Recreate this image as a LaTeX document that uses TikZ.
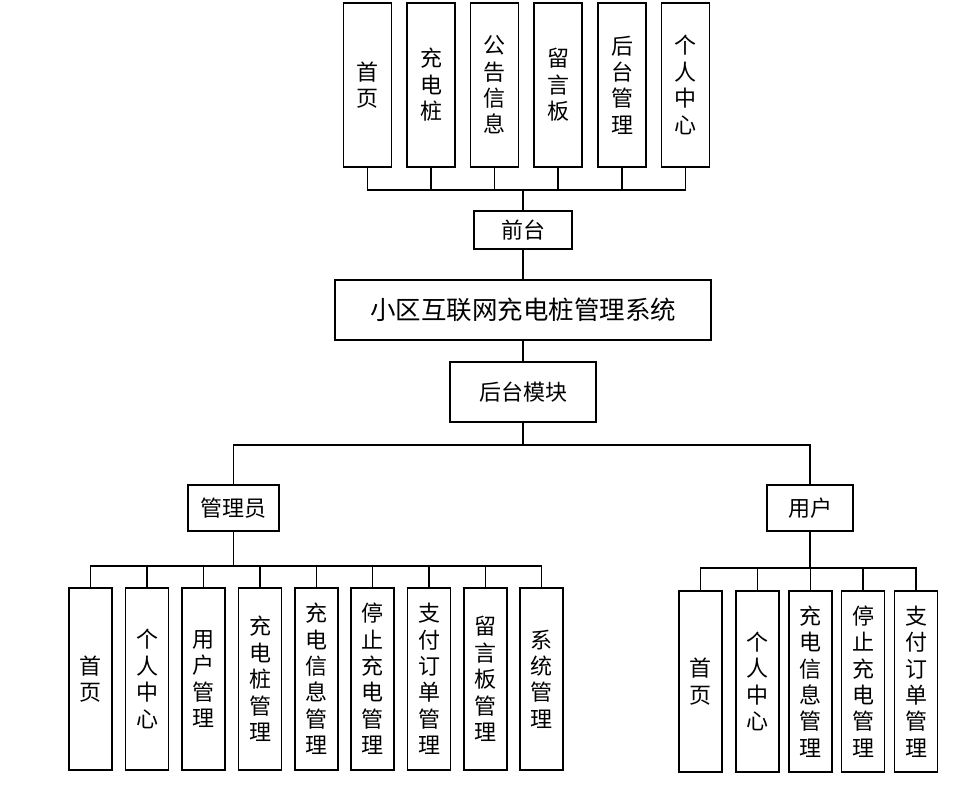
\documentclass[tikz,border=0pt]{standalone}
\usepackage{fontspec}
\newfontfamily\cjk{Noto Sans CJK SC}
\begin{document}
\begin{tikzpicture}[x=1pt,y=-1pt,
  box/.style={draw=black,line width=1.6pt,fill=white,inner sep=0pt,align=center,
    font=\cjk\fontsize{22}{26.4}\selectfont},
  vbox/.style={box,minimum width=48pt},
  conn/.style={draw=black,line width=1.6pt}]
\useasboundingbox (0,0) rectangle (980,788);
% top row
\foreach \n/\x/\t in {t1/367.5/{首\\页},t2/431/{充\\电\\桩},t3/494.5/{公\\告\\信\\息},t4/558/{留\\言\\板},t5/622/{后\\台\\管\\理},t6/685.5/{个\\人\\中\\心}}
  \node[vbox,minimum height=164pt] (\n) at (\x,85) {\t};
\node[box,minimum width=98pt,minimum height=38pt] (qt) at (523,230) {前台};
\node[box,minimum width=376pt,minimum height=60pt,font=\cjk\fontsize{25.5}{28}\selectfont] (sys) at (523,310) {小区互联网充电桩管理系统};
\node[box,minimum width=146pt,minimum height=60pt] (ht) at (523,392) {后台模块};
\node[box,minimum width=91pt,minimum height=46pt] (adm) at (233.5,508) {管理员};
\node[box,minimum width=86pt,minimum height=46pt] (usr) at (810,508) {用户};
% admin children
\foreach \n/\x/\t in {a1/90.5/{首\\页},a2/147/{个\\人\\中\\心},a3/203.5/{用\\户\\管\\理},a4/260/{充\\电\\桩\\管\\理},a5/316.5/{充\\电\\信\\息\\管\\理},a6/372.5/{停\\止\\充\\电\\管\\理},a7/429/{支\\付\\订\\单\\管\\理},a8/485.5/{留\\言\\板\\管\\理},a9/541.5/{系\\统\\管\\理}}
  \node[box,minimum width=43pt,minimum height=182pt] (\n) at (\x,679) {\t};
% user children
\foreach \n/\x/\t in {u1/700.5/{首\\页},u2/757.5/{个\\人\\中\\心},u3/810.5/{充\\电\\信\\息\\管\\理},u4/863/{停\\止\\充\\电\\管\\理},u5/916/{支\\付\\订\\单\\管\\理}}
  \node[box,minimum width=43pt,minimum height=181pt] (\n) at (\x,681.5) {\t};
% connectors
\coordinate (bt) at (523,190);
\foreach \n in {t1,t2,t3,t4,t5,t6} \draw[conn] (\n.south) |- (bt);
\draw[conn] (bt) -- (qt.north);
\draw[conn] (qt.south) -- (sys.north);
\draw[conn] (sys.south) -- (ht.north);
\coordinate (bb) at (523,445);
\draw[conn] (ht.south) -- (bb);
\draw[conn] (bb) -| (adm.north);
\draw[conn] (bb) -| (usr.north);
\coordinate (ab) at (233.5,566);
\draw[conn] (adm.south) -- (ab);
\foreach \n in {a1,a2,a3,a4,a5,a6,a7,a8,a9} \draw[conn] (ab) -| (\n.north);
\coordinate (ub) at (810,568);
\draw[conn] (usr.south) -- (ub);
\foreach \n in {u1,u2,u3,u4,u5} \draw[conn] (ub) -| (\n.north);
\end{tikzpicture}
\end{document}
